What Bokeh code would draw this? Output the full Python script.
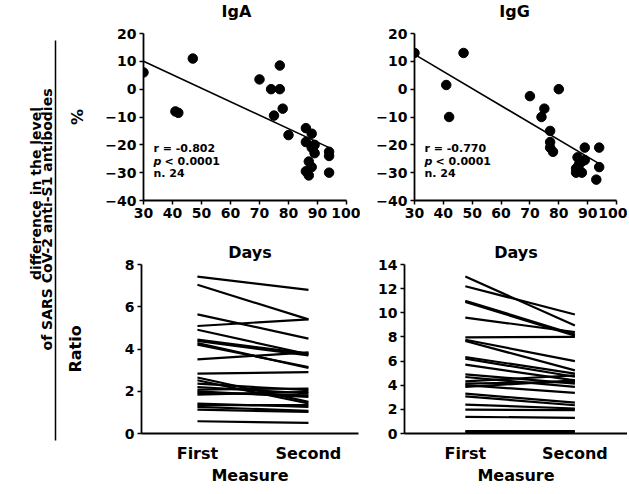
import numpy as np
from bokeh.plotting import figure
from bokeh.layouts import row, column
from bokeh.models import Range1d, FixedTicker, Label
from bokeh.embed import file_html
from bokeh.resources import INLINE

FONT = "DejaVu Sans"

# ---------------- data ----------------
panel_titles = ["IgA", "IgG"]
x_ticks_top = [30, 40, 50, 60, 70, 80, 90, 100]
y_ticks_top = [-40, -30, -20, -10, 0, 10, 20]

iga_days = [30, 41, 42, 47, 70, 74, 77, 77, 78, 75, 80, 86, 88, 86, 89, 89, 94, 94, 87, 86, 87, 94, 88, 88]
iga_pct = [6, -8, -8.5, 11, 3.5, 0, 0, 8.5, -7, -9.5, -16.5, -14, -16, -19, -20, -23, -22.5, -24, -26, -29.5, -31, -30, -21, -28]
iga_fit_x = [30, 94]
iga_fit_y = [10, -21]

igg_days = [30, 47, 41, 42, 70, 75, 74, 80, 77, 77, 77, 78, 89, 94, 86.5, 89, 86, 88, 94, 93, 86, 87, 88, 87]
igg_pct = [13, 13, 1.5, -10, -2.5, -7, -10, 0, -15, -19, -21, -22.5, -21, -21, -24.5, -25.5, -28.5, -30, -28, -32.5, -30, -27, -26, -29]
igg_fit_x = [30, 93.5]
igg_fit_y = [12.5, -26.5]

measures = ["First", "Second"]
measure_pos = [1, 2]

iga_first = [7.43, 7.04, 5.64, 5.09, 4.91, 4.44, 4.38, 4.28, 4.20, 3.51, 2.83, 2.65,
             2.52, 2.36, 2.20, 2.08, 2.00, 1.92, 1.84, 1.42, 1.34, 1.26, 1.13, 0.58]
iga_second = [6.80, 5.40, 4.49, 5.40, 3.75, 3.78, 3.70, 3.10, 3.15, 3.84, 2.91, 1.50,
              1.42, 2.05, 1.90, 2.13, 1.73, 1.81, 1.97, 1.26, 1.34, 1.07, 1.02, 0.50]
iga_ratio_ticks = [0, 2, 4, 6, 8]

igg_first = [13.0, 12.2, 11.0, 10.9, 9.6, 7.96, 7.77, 7.66, 6.34, 6.2, 5.7, 4.9,
             4.68, 4.32, 4.13, 4.0, 3.86, 3.3, 3.08, 2.4, 1.98, 1.38, 0.19, 0.1]
igg_second = [8.95, 9.86, 8.2, 8.1, 8.4, 8.0, 6.0, 5.23, 4.96, 4.7, 4.4, 4.13,
              3.86, 4.82, 4.27, 3.36, 4.4, 2.56, 2.34, 2.07, 1.93, 1.3, 0.19, 0.1]
igg_ratio_ticks = [0, 2, 4, 6, 8, 10, 12, 14]


def style_axes(p, tick_size="14px", label_size="16px"):
    p.grid.visible = False
    p.outline_line_color = None
    p.background_fill_color = "white"
    p.border_fill_color = "white"
    for ax in p.axis:
        ax.axis_line_width = 1.8
        ax.axis_line_color = "black"
        ax.major_tick_line_width = 1.5
        ax.major_tick_line_color = "black"
        ax.major_tick_out = 4
        ax.major_tick_in = 0
        ax.minor_tick_line_color = None
        ax.major_label_text_font = FONT
        ax.major_label_text_font_style = "bold"
        ax.major_label_text_font_size = tick_size
        ax.major_label_text_color = "black"
        ax.major_label_standoff = 3
        ax.axis_label_text_font = FONT
        ax.axis_label_text_font_style = "bold"
        ax.axis_label_text_font_size = label_size
        ax.axis_label_text_color = "black"


def heading(p, text, shift, standoff):
    p.title.text = text
    p.title.align = "center"
    p.title.offset = shift
    p.title.standoff = standoff
    p.title.text_font = FONT
    p.title.text_font_style = "bold"
    p.title.text_font_size = "16px"
    p.title.text_color = "black"


def top_panel(xs, ys, fx, fy, stats, width, mbl, mbr, ylabel):
    p = figure(width=width, height=217, x_range=Range1d(30, 100), y_range=Range1d(-40, 20),
               output_backend="svg", toolbar_location=None,
               min_border_left=mbl, min_border_right=mbr, min_border_top=13, min_border_bottom=37)
    style_axes(p)
    p.xaxis.ticker = FixedTicker(ticks=x_ticks_top)
    p.yaxis.ticker = FixedTicker(ticks=y_ticks_top)
    if ylabel:
        p.yaxis.axis_label = ylabel
        p.yaxis.axis_label_standoff = 15
    p.line(fx, fy, line_color="black", line_width=1.6)
    p.scatter(xs, ys, size=9.5, fill_color="black", line_color="black")
    r_txt, n_txt = stats
    common = dict(text_font=FONT, text_font_style="bold", text_font_size="11px",
                  text_color="black", text_baseline="middle")
    p.add_layout(Label(x=30, y=-40, x_offset=10, y_offset=52, text=r_txt, **common))
    p.add_layout(Label(x=30, y=-40, x_offset=10, y_offset=39, text="p",
                       **{**common, "text_font_style": "bold italic"}))
    p.add_layout(Label(x=30, y=-40, x_offset=21, y_offset=39, text="< 0.0001", **common))
    p.add_layout(Label(x=30, y=-40, x_offset=10, y_offset=27, text=n_txt, **common))
    return p


def bottom_panel(first, second, yticks, days_shift, width, mbl, mbr, xr, ylabel):
    p = figure(width=width, height=255, x_range=Range1d(*xr), y_range=Range1d(yticks[0], yticks[-1]),
               output_backend="svg", toolbar_location=None,
               min_border_left=mbl, min_border_right=mbr, min_border_top=27, min_border_bottom=59)
    style_axes(p)
    # "Days": x-axis title of the scatter panel just above
    heading(p, "Days", days_shift, 5)
    p.xaxis.ticker = FixedTicker(ticks=measure_pos)
    p.xaxis.major_label_overrides = {k: v for k, v in zip(measure_pos, measures)}
    p.xaxis.major_label_text_font_size = "16px"
    p.xaxis.major_tick_line_color = None
    p.xaxis.major_tick_out = 0
    p.xaxis.major_label_standoff = 10
    p.xaxis.axis_label = "Measure"
    p.xaxis.axis_label_standoff = 0
    p.yaxis.ticker = FixedTicker(ticks=yticks)
    if ylabel:
        p.yaxis.axis_label = ylabel
        p.yaxis.axis_label_standoff = 37
    xs = [list(measure_pos) for _ in first]
    ys = [[a, b] for a, b in zip(first, second)]
    p.multi_line(xs, ys, line_color="black", line_width=2.2)
    return p


tl = top_panel(iga_days, iga_pct, iga_fit_x, iga_fit_y, ("r = -0.802", "n. 24"), 298, 81, 14, "%")
tr = top_panel(igg_days, igg_pct, igg_fit_x, igg_fit_y, ("r = -0.770", "n. 24"), 267, 54, 11, None)
bl = bottom_panel(iga_first, iga_second, iga_ratio_ticks, -9, 313, 75, 17, (0.496, 2.451), "Ratio")
br = bottom_panel(igg_first, igg_second, igg_ratio_ticks, 0, 252, 28, 0, (0.445, 2.48), None)

# header strip with the panel titles (page-pixel coordinates)
head = figure(width=565, height=20, x_range=Range1d(62, 627), y_range=Range1d(20, 0),
              x_axis_type=None, y_axis_type=None, min_border=0,
              output_backend="svg", toolbar_location=None)
head.grid.visible = False
head.outline_line_color = None
head.text(x=[236, 514], y=[10.5, 10.5], text=panel_titles, text_align="center",
          text_baseline="middle", text_font={"value": FONT}, text_font_style="bold",
          text_font_size="16px", text_color="black")

# left label panel
lab = figure(width=62, height=492, x_range=Range1d(0, 62), y_range=Range1d(492, 0),
             x_axis_type=None, y_axis_type=None, min_border=0,
             output_backend="svg", toolbar_location=None)
lab.grid.visible = False
lab.outline_line_color = None
lab.text(x=[35.5, 46.5], y=[193, 219],
         text=["difference in the level", "of SARS CoV-2 anti-S1 antibodies"],
         angle=np.pi / 2, text_align="center", text_baseline="alphabetic",
         text_font={"value": FONT}, text_font_style="bold", text_font_size="14px",
         text_color="black")
lab.line(x=[55, 55], y=[40, 440], line_color="black", line_width=1.5)

layout = row(lab, column(head, row(tl, tr), row(bl, br)))

open("out.html", "w").write(file_html(layout, INLINE))
